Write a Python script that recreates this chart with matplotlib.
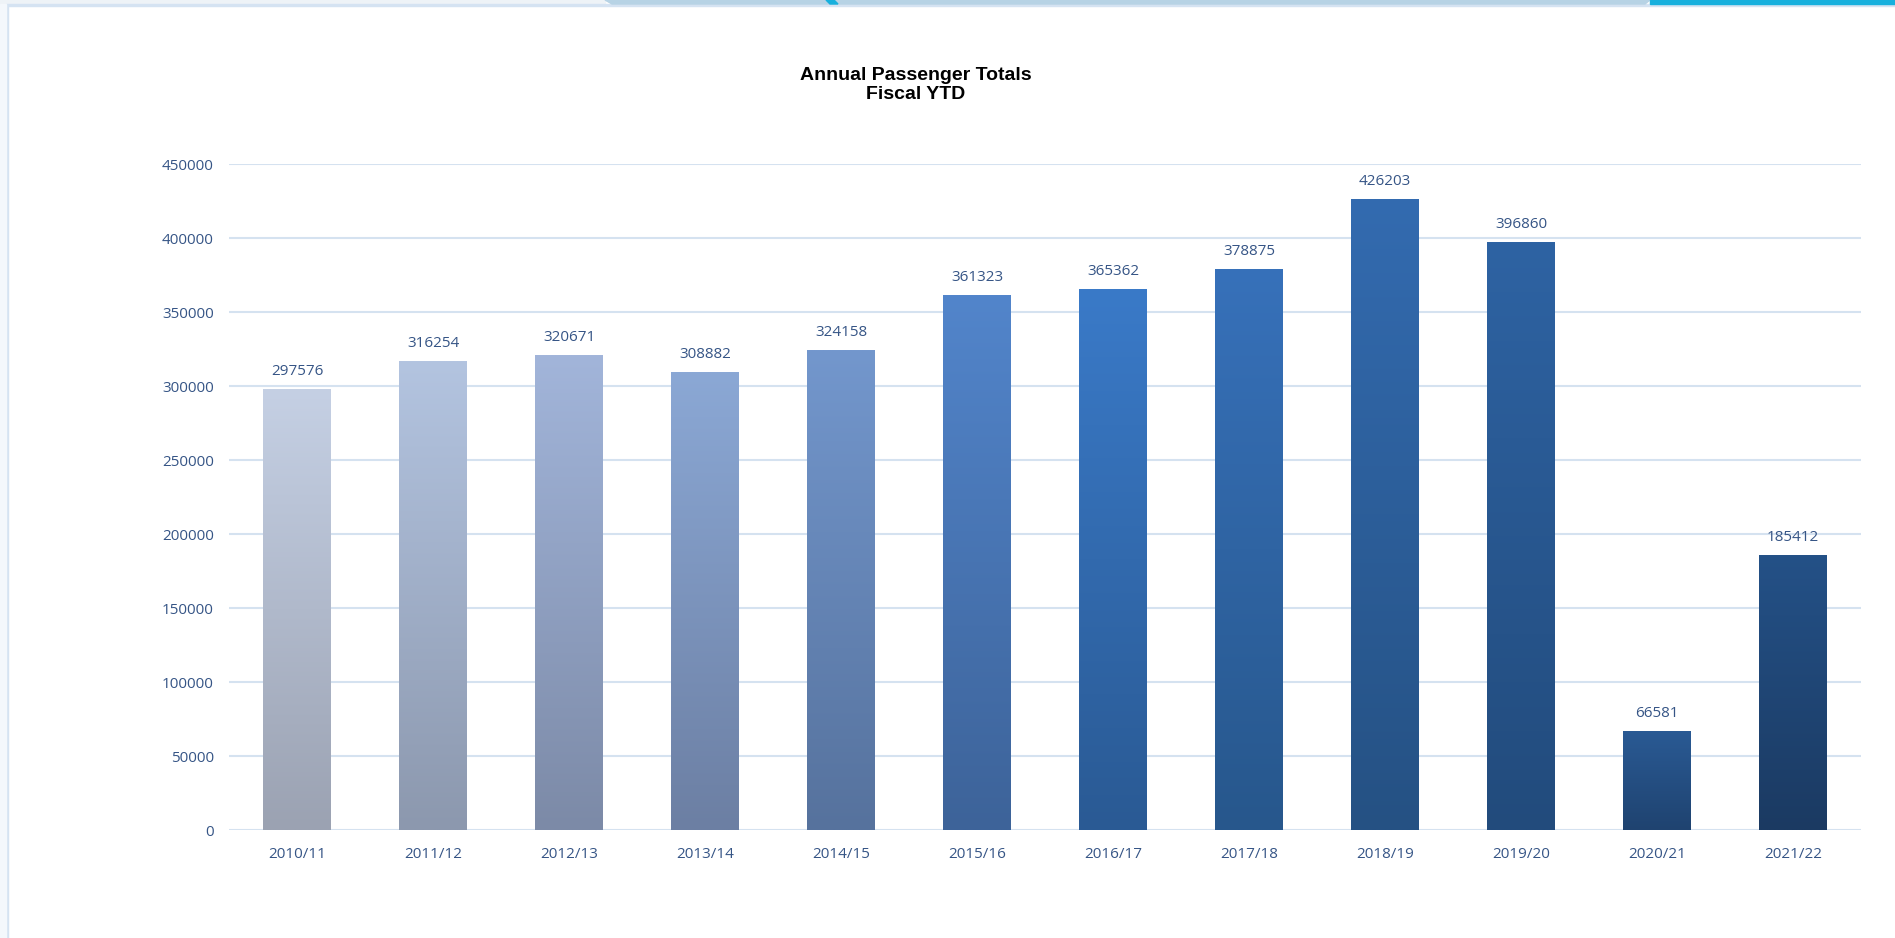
#!/usr/bin/env python3
# coding: UTF-8

import numpy as np
import matplotlib
matplotlib.use('Agg')
import matplotlib.pyplot as plt
from matplotlib.colors import to_rgb
from matplotlib.patches import Rectangle, Polygon

years = ['2010/11', '2011/12', '2012/13', '2013/14', '2014/15', '2015/16',
         '2016/17', '2017/18', '2018/19', '2019/20', '2020/21', '2021/22']
passengers = [297576, 316254, 320671, 308882, 324158, 361323,
              365362, 378875, 426203, 396860, 66581, 185412]

# gradient colours for each bar (top, bottom)
top_colors = ['#C5D0E4', '#B3C4E0', '#A2B5DA', '#8BA8D5', '#7397CD', '#5285CB',
              '#3A7AC8', '#3771BA', '#336BB0', '#2E63A3', '#2A5A94', '#245187']
bottom_colors = ['#9BA2B2', '#8C98AE', '#7C8AA7', '#6C7FA3', '#56729D', '#3D6399',
                 '#2A5A94', '#27578C', '#255183', '#224B7C', '#1F4370', '#1B3A62']

text_color = '#365586'
grid_color = '#D5E2F0'

W, H = 1895, 938
fig = plt.figure(figsize=(W / 100, H / 100), dpi=100)
ax = fig.add_axes([229 / W, 1 - 830 / H, (1861 - 229) / W, (830 - 164) / H])

x = np.arange(len(years))
width = 0.5

for i, (val, c_top, c_bot) in enumerate(zip(passengers, top_colors, bottom_colors)):
    t = np.array(to_rgb(c_top))
    b = np.array(to_rgb(c_bot))
    k = np.linspace(0, 1, 256)[:, None]
    grad = (t * (1 - k) + b * k)[:, None, :]
    ax.imshow(grad, extent=[i - width / 2, i + width / 2, 0, val],
              aspect='auto', interpolation='bilinear', zorder=2)
    ax.annotate(str(val), (i, val), xytext=(0, 13), textcoords='offset points',
                ha='center', va='center', fontsize=11, color=text_color,
                family='Open Sans', annotation_clip=False)

ax.set_xlim(-0.5, len(years) - 0.5)
ax.set_ylim(0, 450000)
ax.set_yticks(np.arange(0, 450001, 50000))
ax.set_yticklabels([str(v) for v in range(0, 450001, 50000)])
ax.set_xticks(x)
ax.set_xticklabels(years)

ax.grid(axis='y', color=grid_color, linewidth=1.5, zorder=0)
ax.set_axisbelow(True)
for s in ax.spines.values():
    s.set_visible(False)
ax.tick_params(axis='both', length=0, labelsize=11, labelcolor=text_color)
ax.tick_params(axis='y', pad=11)
ax.tick_params(axis='x', pad=12)
for lbl in ax.get_xticklabels() + ax.get_yticklabels():
    lbl.set_family('Open Sans')

fig.text(916 / W, 1 - 85 / H, 'Annual Passenger Totals\nFiscal YTD',
         ha='center', va='center', fontsize=14, fontweight='bold',
         family='Liberation Sans', linespacing=1.15)

# page frame and top strip from the screenshot
fig.patches.append(Rectangle((0, 1 - 4 / H), 605 / W, 4 / H, transform=fig.transFigure,
                             color='#EEF3F7', zorder=0))
fig.patches.append(Polygon([(605 / W, 1), (1650 / W, 1), (1645 / W, 1 - 4 / H),
                            (612 / W, 1 - 4 / H)], closed=True,
                           transform=fig.transFigure, color='#B7D3E5', zorder=1))
fig.patches.append(Polygon([(826 / W, 1), (834 / W, 1), (838 / W, 1 - 4 / H),
                            (830 / W, 1 - 4 / H)], closed=True,
                           transform=fig.transFigure, color='#17B0DD', zorder=2))
fig.patches.append(Rectangle((1650 / W, 1 - 4 / H), 245 / W, 4 / H, transform=fig.transFigure,
                             color='#17B0DD', zorder=1))
fig.patches.append(Rectangle((6 / W, 1 - 6 / H), 1 - 6 / W, 1.5 / H, transform=fig.transFigure,
                             color='#D5E3F2', zorder=0))
fig.patches.append(Rectangle((6 / W, 0), 2 / W, 1 - 6 / H, transform=fig.transFigure,
                             color='#D5E3F2', zorder=0))
fig.patches.append(Rectangle((0, 0), 6 / W, 1 - 4 / H, transform=fig.transFigure,
                             color='#F4F8FC', zorder=0))

fig.savefig('out.png', dpi=100)
